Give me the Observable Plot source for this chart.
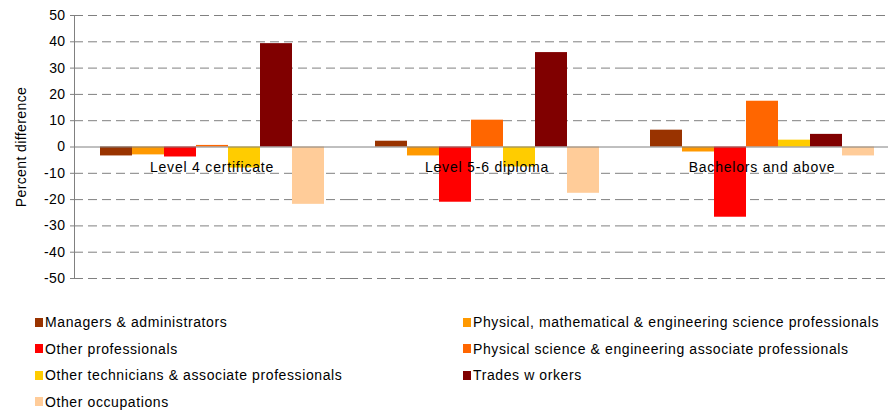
<!DOCTYPE html>
<html>
<head>
<meta charset="utf-8">
<script src="https://cdn.jsdelivr.net/npm/d3@7"></script>
<script src="https://cdn.jsdelivr.net/npm/@observablehq/plot@0.6"></script>
<style>
  html, body { margin: 0; padding: 0; background: #fff; }
  body { width: 888px; height: 414px; overflow: hidden; font-family: "Liberation Sans", Arial, sans-serif; }
  #chart svg { display: block; }
  #legend {
    display: grid;
    grid-template-columns: 428px auto;
    grid-auto-rows: 26.5px;
    padding-left: 35px;
    padding-top: 19px;
    font-size: 14px;
    letter-spacing: 0.6px;
    color: #000;
  }
  #legend .item { display: flex; align-items: center; white-space: nowrap; }
  #legend .sw { width: 8px; height: 9px; margin-right: 2px; flex: none; }
</style>
</head>
<body>
<div id="chart"></div>
<div id="legend"></div>
<script>
const groups = ["Level 4 certificate", "Level 5-6 diploma", "Bachelors and above"];
const occupations = [
  "Managers & administrators",
  "Physical, mathematical & engineering science professionals",
  "Other professionals",
  "Physical science & engineering associate professionals",
  "Other technicians & associate professionals",
  "Trades w orkers",
  "Other occupations"
];
const colors = ["#993300", "#FF9900", "#FF0000", "#FF6600", "#FFCC00", "#800000", "#FFCC99"];
const level4 = [-3.4, -3.0, -3.8, 0.6, -8.0, 39.3, -21.8];
const level56 = [2.2, -3.4, -21.0, 10.2, -7.6, 35.9, -17.6];
const bachelors = [6.4, -1.9, -26.7, 17.4, 2.6, 4.8, -3.4];
const yTicks = [50, 40, 30, 20, 10, 0, -10, -20, -30, -40, -50];
const legendOrder = [0, 1, 2, 3, 4, 5, 6];

const seriesByGroup = [level4, level56, bachelors];
const data = [];
groups.forEach((g, gi) => {
  occupations.forEach((o, oi) => {
    data.push({group: g, occupation: o, value: seriesByGroup[gi][oi]});
  });
});

const chart = Plot.plot({
  width: 888,
  height: 290,
  marginLeft: 73,
  marginRight: 0,
  marginTop: 15,
  marginBottom: 12,
  style: {fontFamily: "Liberation Sans, Arial, sans-serif", fontSize: "14px", color: "#000", background: "#fff"},
  fx: {domain: groups, padding: 0, range: [73, 900], axis: null},
  x: {domain: occupations, paddingInner: 0, paddingOuter: 0.74, axis: null},
  y: {domain: [-50, 50], ticks: yTicks},
  color: {domain: occupations, range: colors},
  marks: [
    Plot.ruleY(yTicks.filter(d => d !== 0), {stroke: "#808080", strokeDasharray: "9,5", strokeWidth: 1}),
    Plot.barY(data, {fx: "group", x: "occupation", y: "value", fill: "occupation"}),
    Plot.ruleY([0], {stroke: "#808080", strokeWidth: 1}),
    Plot.frame({anchor: "left", facetAnchor: "left", stroke: "#808080"}),
    Plot.axisY({
      ticks: yTicks,
      tickSize: 4,
      tickPadding: 5,
      stroke: "#808080",
      fill: "#000",
      fontSize: 14,
      label: "Percent difference",
      labelAnchor: "center",
      labelOffset: 58,
      labelArrow: "none",
      tickFormat: d => String(d)
    }),
    Plot.text(groups, {fx: d => d, y: () => 0, text: d => d, dy: 21, fontSize: 14, fill: "#000", className: "cat-label"})
  ]
});
chart.querySelectorAll("text").forEach(t => t.setAttribute("letter-spacing", "0.4"));
chart.querySelectorAll(".cat-label text").forEach(t => t.setAttribute("letter-spacing", "0.8"));
document.getElementById("chart").appendChild(chart);

const legend = document.getElementById("legend");
legendOrder.forEach(i => {
  const item = document.createElement("div");
  item.className = "item";
  const sw = document.createElement("span");
  sw.className = "sw";
  sw.style.background = colors[i];
  const lab = document.createElement("span");
  lab.textContent = occupations[i];
  item.appendChild(sw);
  item.appendChild(lab);
  legend.appendChild(item);
});
</script>
</body>
</html>
